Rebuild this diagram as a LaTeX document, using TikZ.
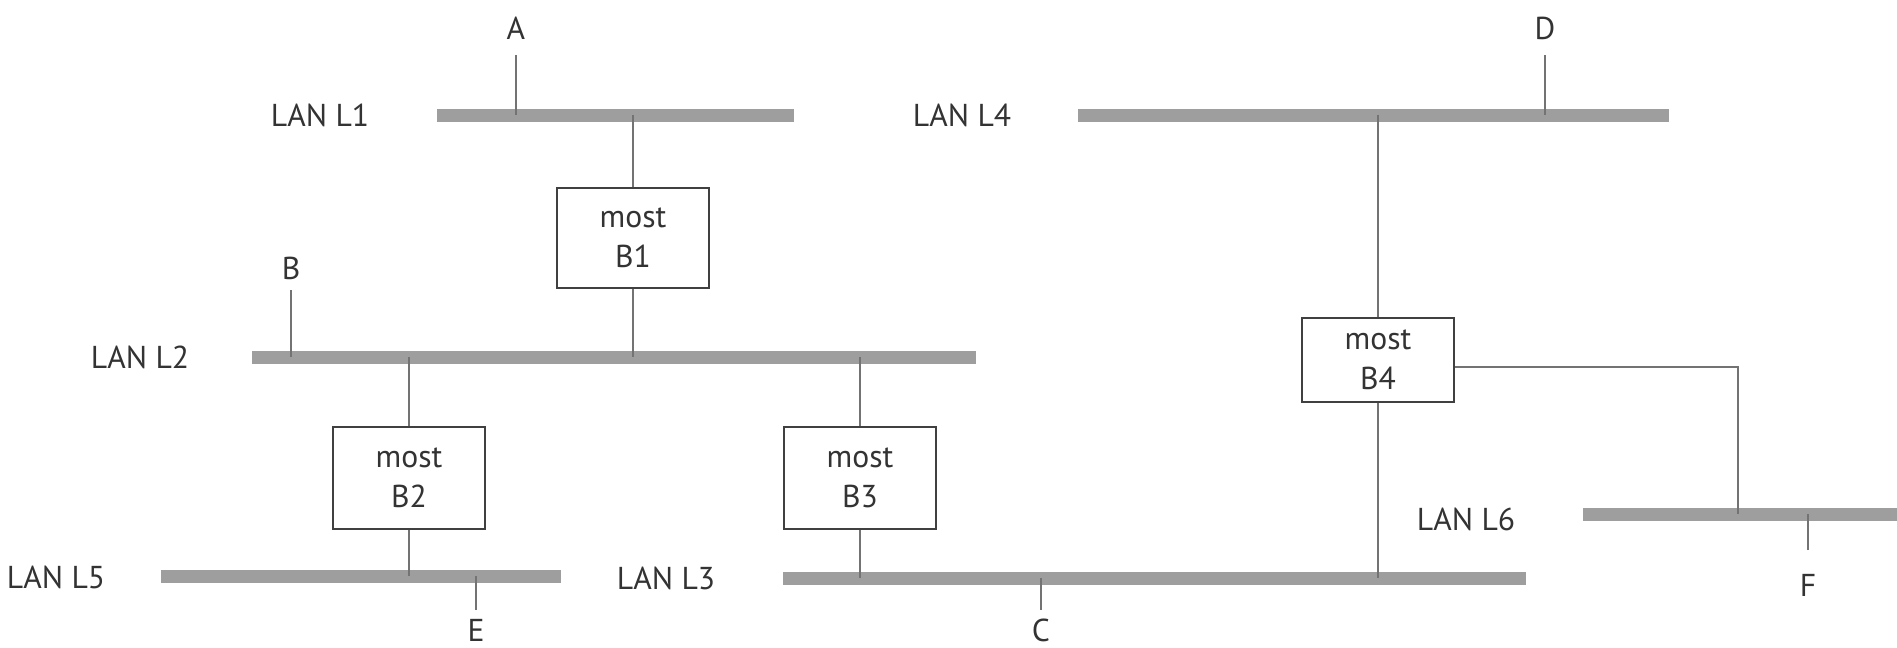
\documentclass[tikz,border=0pt]{standalone}
\usepackage{fontspec}
\setmainfont{PT Sans}
\usetikzlibrary{positioning}

\tikzset{
  bus/.style={line width=3.7pt, draw=black!38},
  wire/.style={line width=0.6pt, draw=black!55},
  most/.style={draw=black!75, line width=0.8pt, fill=white, text=black!80,
    minimum width=1.52cm, minimum height=1.0cm, align=center, inner sep=0pt},
  lan/.style={text=black!80, inner sep=0pt},
  stanica/.style={text=black!80, inner sep=0pt},
}

\begin{document}
\begin{tikzpicture}[x=0.01cm, y=-0.01cm, font=\fontsize{9}{11.4}\selectfont]
  \useasboundingbox (0,0) rectangle (1897,647);

  % Segmenty LAN
  \coordinate (L1w) at (437,115);  \coordinate (L1e) at (794,115);
  \coordinate (L2w) at (252,357);  \coordinate (L2e) at (976,357);
  \coordinate (L4w) at (1078,115); \coordinate (L4e) at (1669,115);
  \coordinate (L5w) at (161,576);  \coordinate (L5e) at (561,576);
  \coordinate (L3w) at (783,578);  \coordinate (L3e) at (1526,578);
  \coordinate (L6w) at (1583,514); \coordinate (L6e) at (1897,514);
  \foreach \s in {L1,L2,L3,L4,L5,L6}
    \draw[bus] (\s w) -- (\s e);

  % Popisy LAN
  \node[lan] (nL1) at (320,115) {LAN L1};
  \node[lan] (nL2) at (140,357) {LAN L2};
  \node[lan] (nL4) at (962,115) {LAN L4};
  \node[lan] (nL5) at (56,577) {LAN L5};
  \node[lan] (nL3) at (666,578) {LAN L3};
  \node[lan] (nL6) at (1466,519) {LAN L6};

  % Mosty
  \node[most] (B1) at (633,238) {most\\B1};
  \node[most, minimum height=1.02cm] (B2) at (409,478) {most\\B2};
  \node[most, minimum height=1.02cm] (B3) at (860,478) {most\\B3};
  \node[most, minimum height=0.84cm] (B4) at (1378,360) {most\\B4};

  \draw[wire] (B1.north) -- (B1 |- L1w);
  \draw[wire] (B1.south) -- (B1 |- L2w);
  \draw[wire] (B2.north) -- (B2 |- L2w);
  \draw[wire] (B2.south) -- (B2 |- L5w);
  \draw[wire] (B3.north) -- (B3 |- L2w);
  \draw[wire] (B3.south) -- (B3 |- L3w);
  \draw[wire] (B4.north) -- (B4 |- L4w);
  \draw[wire] (B4.south) -- (B4 |- L3w);
  \coordinate (L6t) at (1738,514);
  \draw[wire] ([yshift=-2pt]B4.east) -| (L6t);

  % Stanice
  \node[stanica] (A) at (516,28) {A};
  \node[stanica] (B) at (291,268) {B};
  \node[stanica] (C) at (1041,630) {C};
  \node[stanica] (D) at (1545,28) {D};
  \node[stanica] (E) at (476,630) {E};
  \node[stanica] (F) at (1808,585) {F};

  \draw[wire, shorten <=0.27cm] (A.center) -- (A |- L1w);
  \draw[wire, shorten <=0.22cm] (B.center) -- (B |- L2w);
  \draw[wire, shorten <=0.2cm] (C.center) -- (C |- L3w);
  \draw[wire, shorten <=0.27cm] (D.center) -- (D |- L4w);
  \draw[wire, shorten <=0.2cm] (E.center) -- (E |- L5w);
  \draw[wire, shorten <=0.35cm] (F.center) -- (F |- L6w);
\end{tikzpicture}
\end{document}
